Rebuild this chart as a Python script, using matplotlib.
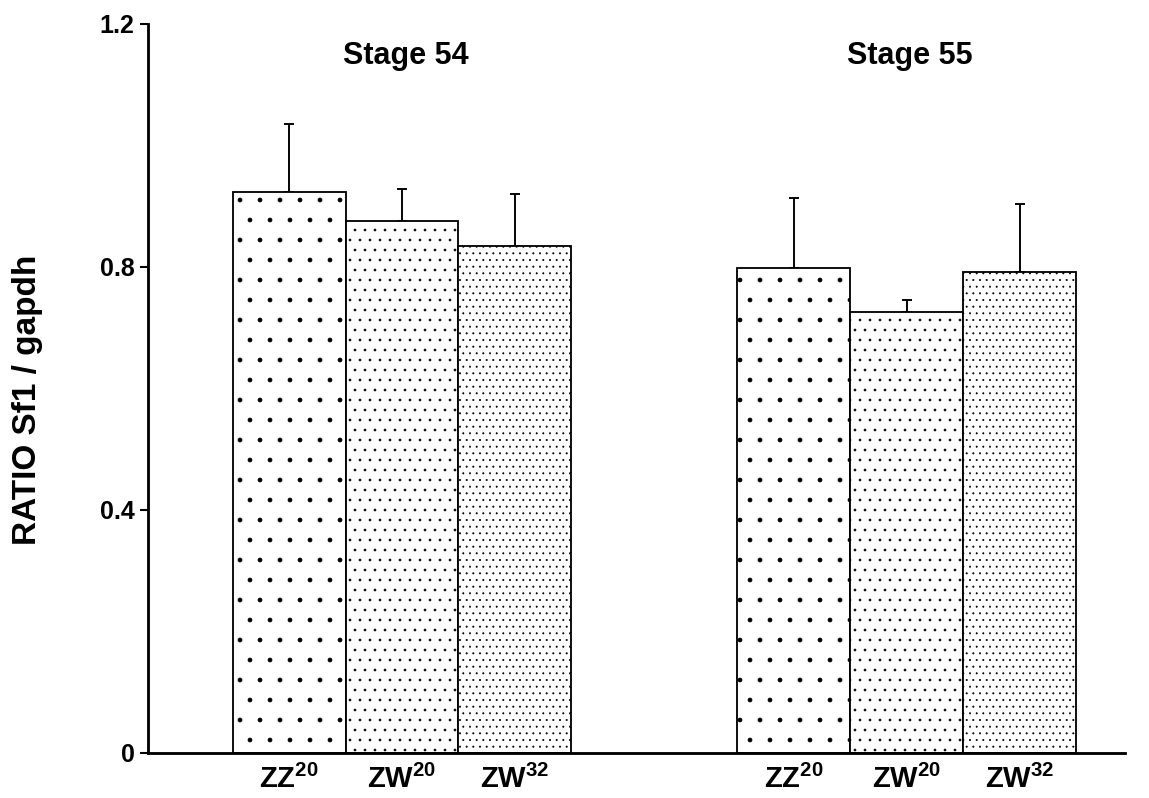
import matplotlib.pyplot as plt
import numpy as np

plt.rcParams['font.family'] = ['Liberation Sans', 'DejaVu Sans']
plt.rcParams['font.weight'] = 'bold'
plt.rcParams['mathtext.default'] = 'regular'
plt.rcParams['hatch.linewidth'] = 0.4

genotypes = ['ZZ$^{20}$', 'ZW$^{20}$', 'ZW$^{32}$']
stages = ['Stage 54', 'Stage 55']
stage54_mean = [0.924, 0.875, 0.835]
stage54_err = [0.111, 0.053, 0.085]
stage55_mean = [0.799, 0.726, 0.792]
stage55_err = [0.115, 0.019, 0.112]
hatches = ['.', '..', '...']

# dpi 120 makes the dot hatch spacing match the original (20 / 10 / 7 px)
DPI = 120
fig = plt.figure(figsize=(1149 / DPI, 798 / DPI), dpi=DPI)
ax = fig.add_axes([0.1288, 0.0564, 0.85, 0.9136])

group_starts = [0.75, 5.22]
width = 1.0
xticks, xlabels = [], []
for start, means, errs, title in zip(group_starts, [stage54_mean, stage55_mean],
                                     [stage54_err, stage55_err], stages):
    xs = start + width / 2 + np.arange(3) * width
    for x, m, e, h in zip(xs, means, errs, hatches):
        ax.bar(x, m, width=width, color='white', edgecolor='black',
               hatch=h, linewidth=1.1, zorder=2)
        ax.errorbar(x, m, yerr=[[0], [e]], fmt='none', ecolor='black',
                    elinewidth=1.15, capsize=3, capthick=1.15, zorder=1)
    xticks.extend(xs)
    xlabels.extend(genotypes)
    ax.text(xs[1] + 0.03, 1.148, title, ha='center', va='center',
            fontsize=18.3, fontweight='bold')

ax.set_xlim(0, 8.65)
ax.set_ylim(0, 1.2)
ax.set_yticks([0, 0.4, 0.8, 1.2])
ax.set_yticklabels(['0', '0.4', '0.8', '1.2'], fontsize=15, fontweight='bold')
ax.set_xticks(xticks)
ax.set_xticklabels(xlabels, fontsize=17.5, fontweight='bold')
ax.tick_params(axis='x', length=0, pad=7)
ax.tick_params(axis='y', length=5, width=1.25, pad=3)
ax.set_ylabel('RATIO Sf1 / gapdh', fontsize=20, fontweight='bold', va='center')
ax.yaxis.set_label_coords(-0.123, 0.485)

for s in ['top', 'right']:
    ax.spines[s].set_visible(False)
for s in ['left', 'bottom']:
    ax.spines[s].set_linewidth(1.7)

fig.savefig('out.png', dpi=DPI)
